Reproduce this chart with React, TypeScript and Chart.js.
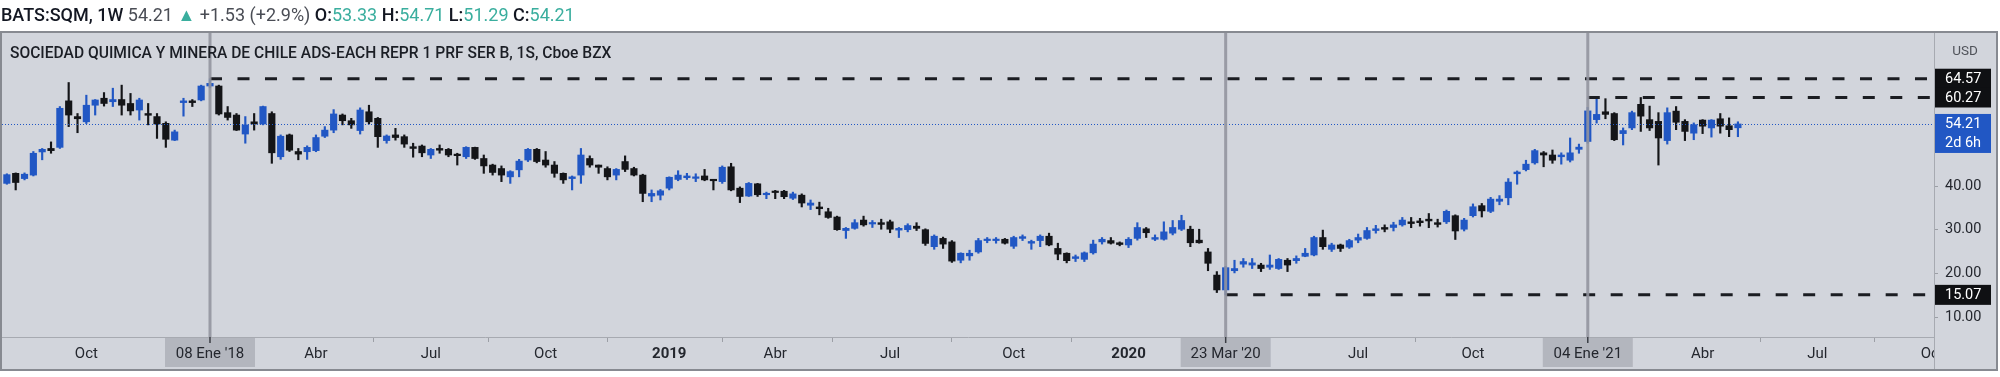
import React, { useEffect, useRef } from 'react';
import { Chart, registerables } from 'chart.js';

Chart.register(...registerables);

// Weekly candles; week index counted from the week of 08 Ene 2018 (= 0)
const FIRST_WEEK = -23;

const opens = [
  40.6, 42.9, 41.7, 42.5, 47.8, 48.6, 48.85, 59.5, 55.9, 54.7, 58.5, 60.1, 59.3, 59.8, 58.9, 57.4, 56.6, 55.9, 54.35, 50.5, 59.1, 59.5, 59.7,
  62.9, 62.9, 56.8, 56.25, 51.9, 54.7, 54.2, 56.6, 46.7, 51.7, 47.9, 47.85, 48.1, 51.4, 52.8, 56.25, 54.95, 52.7, 57.0, 55.5, 50.4, 51.7, 51.3, 49.0, 49.15, 47.1, 48.6, 48.4, 47.3, 46.7, 48.85, 46.3, 44.8,
  44.0, 42.1, 43.7, 45.95, 48.4, 45.95, 44.8, 42.9, 41.7, 42.5, 46.3, 44.8, 44.0, 42.5, 45.6, 44.0, 42.5, 37.7, 37.9,
  39.5, 41.5, 41.9, 41.75, 42.3, 41.5, 41.0, 44.4, 39.5, 37.7, 40.5, 38.0, 38.8, 38.8, 37.2, 37.9, 35.6, 35.2, 34.1, 32.9, 29.8, 30.3, 32.2, 31.3, 31.6, 31.8, 29.9, 30.0, 30.8, 30.0, 26.1, 28.0, 27.2, 23.0, 24.0, 24.9, 27.5, 27.5, 27.8, 26.2, 28.0, 26.9, 27.5, 28.5, 25.7, 24.6, 23.4, 23.2, 24.7, 27.2, 27.5, 27.0,
  26.5, 28.0, 30.2, 27.8, 27.8, 29.2, 30.1, 30.1, 27.6, 24.9, 19.6, 16.2, 20.6, 22.1, 21.9, 21.9, 21.4, 21.1, 23.0, 22.9, 23.9, 24.2, 28.2, 25.5, 26.5, 26.0, 27.6, 28.0, 29.8, 30.5, 30.5, 31.1, 31.8, 32.0, 32.4, 31.6, 31.8, 33.2, 30.1, 33.2, 35.5, 34.2, 36.5, 37.3, 42.8, 43.75, 45.3, 47.6, 47.1, 46.7, 45.9, 48.4,
  50.2, 55.2, 57.0, 56.6, 52.0, 53.3, 58.7, 55.2, 54.8, 50.4, 57.15, 54.8, 52.1, 55.1, 53.3, 55.4, 53.8, 53.33,
];
const highs = [
  42.8, 43.0, 43.0, 47.9, 48.6, 50.1, 58.2, 63.7, 56.6, 60.8, 59.8, 61.4, 62.4, 63.1, 61.2, 60.1, 58.9, 56.6, 54.7, 52.8, 60.1, 59.8, 63.1,
  64.57, 63.1, 58.2, 56.6, 55.9, 56.6, 58.3, 57.0, 51.7, 51.9, 48.6, 49.2, 51.7, 53.6, 57.5, 56.5, 55.5, 57.9, 58.5, 55.7, 51.7, 53.2, 51.7, 49.8, 49.4, 48.6, 49.4, 48.6, 47.5, 49.0, 48.9, 47.1, 45.0,
  44.6, 43.5, 46.1, 48.6, 48.6, 47.9, 45.6, 43.0, 42.3, 48.6, 46.9, 44.8, 44.4, 44.0, 46.9, 44.3, 42.7, 39.1, 39.2,
  42.1, 43.5, 42.9, 42.8, 43.8, 41.5, 44.6, 45.2, 39.8, 40.8, 40.6, 38.6, 39.0, 39.0, 38.6, 38.2, 36.8, 36.3, 34.9, 33.1, 30.5, 32.3, 33.1, 32.1, 32.4, 32.2, 30.5, 31.35, 31.6, 30.2, 28.8, 28.3, 27.5, 24.7, 25.3, 28.0, 28.2, 28.2, 28.0, 28.5, 28.8, 27.6, 28.8, 29.2, 26.9, 24.7, 24.2, 24.9, 27.6, 28.2, 28.2, 27.2,
  28.2, 31.6, 30.5, 28.8, 31.8, 32.1, 33.3, 30.8, 30.1, 25.7, 20.4, 21.6, 23.0, 23.4, 23.4, 22.3, 24.2, 23.4, 23.4, 24.0, 25.7, 28.5, 29.9, 26.9, 26.7, 27.8, 29.0, 30.5, 31.0, 31.1, 31.7, 32.8, 32.8, 32.6, 33.7, 32.4, 34.5, 33.4, 32.6, 35.9, 36.0, 37.4, 37.8, 41.7, 43.45, 45.9, 48.4, 47.9, 48.25, 47.6, 51.0, 49.6,
  58.0, 60.27, 60.0, 56.8, 53.3, 57.15, 60.27, 58.3, 56.8, 57.9, 58.2, 55.2, 54.45, 55.2, 55.2, 56.6, 55.6, 54.71,
];
const lows = [
  40.4, 39.1, 41.4, 42.3, 46.0, 47.5, 48.6, 53.6, 52.2, 54.3, 56.25, 58.3, 58.2, 56.25, 56.25, 55.1, 54.0, 50.9, 48.85, 50.4, 56.0, 58.2, 59.5,
  62.5, 56.25, 55.1, 52.7, 49.8, 52.8, 54.0, 45.2, 46.1, 47.9, 46.0, 46.1, 47.85, 51.1, 52.2, 54.0, 53.2, 51.9, 54.2, 48.85, 49.8, 50.5, 48.85, 46.6, 46.7, 46.3, 47.5, 46.7, 44.8, 46.3, 46.1, 42.9, 42.5,
  41.0, 40.6, 42.1, 45.6, 45.3, 44.3, 42.0, 40.6, 39.1, 40.6, 44.3, 42.9, 41.4, 41.4, 43.3, 42.3, 36.4, 36.4, 36.8,
  39.1, 41.2, 41.5, 41.0, 41.2, 39.1, 40.6, 38.9, 36.2, 37.6, 37.6, 37.1, 37.1, 37.1, 36.9, 35.2, 34.6, 33.4, 32.6, 29.85, 28.0, 30.1, 30.8, 30.5, 30.1, 29.3, 28.2, 29.5, 29.8, 26.4, 25.5, 25.7, 22.5, 22.4, 23.0, 24.6, 27.0, 26.9, 26.7, 25.7, 27.5, 25.5, 26.1, 26.3, 23.1, 22.4, 22.7, 22.7, 24.4, 26.7, 26.7, 26.3,
  25.9, 27.6, 28.2, 27.5, 27.6, 28.8, 29.8, 26.1, 26.9, 20.6, 15.6, 15.07, 20.1, 21.4, 21.1, 20.4, 20.9, 20.9, 20.4, 22.3, 23.8, 24.0, 25.5, 25.0, 25.0, 25.7, 27.0, 27.8, 29.2, 29.5, 29.7, 30.8, 30.45, 30.8, 30.45, 30.6, 31.4, 27.75, 29.7, 32.9, 32.9, 33.9, 35.7, 35.7, 40.4, 43.45, 45.0, 44.4, 45.2, 45.0, 45.5, 47.5,
  49.8, 54.4, 55.4, 50.4, 49.4, 52.9, 52.5, 52.7, 44.8, 49.6, 52.9, 50.4, 50.6, 52.0, 51.2, 52.1, 51.3, 51.29,
];
const closes = [
  42.6, 40.8, 42.7, 47.5, 48.4, 48.1, 57.8, 56.25, 55.4, 58.5, 59.7, 58.9, 59.8, 58.5, 57.2, 59.7, 56.2, 54.2, 50.7, 52.4, 59.5, 59.1, 62.9,
  63.5, 56.5, 55.7, 52.8, 54.0, 54.2, 58.2, 47.6, 51.4, 48.2, 47.3, 48.85, 51.1, 52.8, 56.5, 54.95, 54.0, 57.4, 54.7, 51.3, 51.45, 51.1, 49.6, 48.6, 47.6, 48.4, 48.2, 47.1, 46.95, 48.85, 46.3, 44.6, 43.1,
  42.5, 43.3, 45.7, 48.4, 45.6, 44.8, 42.9, 41.4, 42.1, 47.1, 44.8, 44.3, 42.1, 43.8, 43.8, 42.5, 38.3, 38.3, 38.9,
  42.0, 42.5, 42.3, 42.1, 41.4, 41.2, 44.3, 39.1, 37.6, 40.6, 38.0, 38.3, 38.5, 37.55, 38.2, 36.1, 36.1, 34.8, 32.8, 30.0, 30.3, 31.6, 31.1, 31.6, 31.2, 30.1, 30.3, 30.95, 30.3, 26.85, 28.5, 26.7, 22.8, 24.6, 24.6, 27.5, 27.8, 27.8, 26.9, 28.2, 28.4, 27.3, 28.5, 26.5, 24.4, 22.9, 23.8, 24.7, 26.7, 27.8, 26.9, 26.6,
  27.8, 30.5, 29.3, 28.2, 29.5, 30.5, 32.1, 27.0, 27.0, 22.3, 16.2, 21.3, 21.1, 22.7, 22.4, 21.1, 21.9, 23.2, 21.9, 23.4, 24.6, 28.2, 26.1, 26.5, 25.7, 27.5, 28.2, 29.8, 30.2, 30.1, 31.1, 32.2, 31.4, 31.6, 32.0, 31.2, 34.2, 29.7, 32.2, 35.25, 34.3, 37.0, 37.0, 40.9, 43.2, 45.0, 48.1, 47.1, 45.9, 47.1, 47.6, 48.9,
  57.2, 56.4, 56.4, 50.6, 52.7, 56.8, 56.0, 53.3, 51.0, 56.8, 54.6, 52.5, 54.05, 53.7, 55.1, 53.7, 52.9, 54.21,
];

// Time axis
const xTickWeeks = [-14, 12, 25, 38, 52, 64, 77, 91, 104, 130, 143, 169, 182, 195];
const xTickLabels = ['Oct', 'Abr', 'Jul', 'Oct', '2019', 'Abr', 'Jul', 'Oct', '2020', 'Jul', 'Oct', 'Abr', 'Jul', 'Oct'];
const markerWeeks = [0, 115, 156];
const markerLabels = ["08 Ene '18", "23 Mar '20", "04 Ene '21"];

// Price axis
const yTicks = [10, 20, 30, 40];
const levelValues = [64.57, 60.27, 15.07];
const levelStartWeeks = [0, 156, 115];
const lastPrice = 54.21;
const countdownLabel = '2d 6h';

const UP = '#2157c4';
const DOWN = '#141518';
const BG = '#d2d5dc';
const TEXT = '#24272e';
const AXIS = '#a7aab1';
const FONT = 'Roboto';
const FRAME = { left: 1, top: 32, right: 1997, bottom: 370 };

const weeks = opens.map((_, i) => FIRST_WEEK + i);
const candleColors = opens.map((o, i) => (closes[i] >= o ? UP : DOWN));

const overlayPlugin = {
  id: 'tvOverlay',
  beforeDraw(chart: any) {
    const { ctx } = chart;
    ctx.save();
    ctx.fillStyle = '#ffffff';
    ctx.fillRect(0, 0, chart.width, chart.height);
    ctx.fillStyle = BG;
    ctx.fillRect(FRAME.left, FRAME.top, FRAME.right - FRAME.left, FRAME.bottom - FRAME.top);
    ctx.restore();
  },
  afterDatasetsDraw(chart: any) {
    const { ctx, chartArea: a } = chart;
    const x = chart.scales.x;
    const y = chart.scales.y;
    ctx.save();
    ctx.beginPath();
    ctx.rect(a.left, a.top, a.right - a.left, a.bottom - a.top);
    ctx.clip();
    // last price dotted line
    const py = Math.round(y.getPixelForValue(lastPrice)) + 0.5;
    ctx.strokeStyle = UP;
    ctx.lineWidth = 1;
    ctx.setLineDash([1, 2]);
    ctx.beginPath();
    ctx.moveTo(a.left, py);
    ctx.lineTo(a.right, py);
    ctx.stroke();
    // horizontal level rays
    ctx.strokeStyle = '#1b1d22';
    ctx.lineWidth = 3;
    ctx.setLineDash([12, 15.5]);
    levelValues.forEach((v, i) => {
      const ly = y.getPixelForValue(v);
      const lx = x.getPixelForValue(levelStartWeeks[i]);
      ctx.beginPath();
      ctx.moveTo(lx, ly);
      ctx.lineTo(a.right, ly);
      ctx.stroke();
    });
    // vertical marker lines
    ctx.setLineDash([]);
    ctx.strokeStyle = 'rgba(146,149,158,0.9)';
    ctx.lineWidth = 3;
    markerWeeks.forEach((w) => {
      const mx = x.getPixelForValue(w);
      ctx.beginPath();
      ctx.moveTo(mx, a.top);
      ctx.lineTo(mx, a.bottom);
      ctx.stroke();
    });
    ctx.restore();
  },
  afterDraw(chart: any) {
    const { ctx, chartArea: a } = chart;
    const x = chart.scales.x;
    const y = chart.scales.y;
    ctx.save();
    // price-axis column continues through the time-axis row
    ctx.fillStyle = BG;
    ctx.fillRect(a.right + 1, a.bottom + 1, FRAME.right - a.right - 1, FRAME.bottom - a.bottom - 1);
    ctx.strokeStyle = AXIS;
    ctx.lineWidth = 1;
    ctx.beginPath();
    ctx.moveTo(a.right + 0.5, a.top);
    ctx.lineTo(a.right + 0.5, FRAME.bottom);
    ctx.stroke();

    // highlighted time labels
    ctx.font = `15px ${FONT}`;
    ctx.textAlign = 'center';
    ctx.textBaseline = 'middle';
    markerWeeks.forEach((w, i) => {
      const mx = x.getPixelForValue(w);
      ctx.fillStyle = '#b3b6be';
      ctx.fillRect(mx - 45, a.bottom + 1, 90, 29);
      ctx.fillStyle = TEXT;
      ctx.fillText(markerLabels[i], mx, a.bottom + 17);
      ctx.strokeStyle = '#3a3d44';
      ctx.lineWidth = 1.5;
      ctx.beginPath();
      ctx.moveTo(mx, a.bottom);
      ctx.lineTo(mx, a.bottom + 6);
      ctx.stroke();
    });

    // price badges
    const bx = a.right + 1;
    const bw = 56;
    ctx.textAlign = 'left';
    ctx.font = `14.5px ${FONT}`;
    levelValues.forEach((v) => {
      const vy = y.getPixelForValue(v);
      ctx.fillStyle = '#0f1013';
      ctx.fillRect(bx, vy - 10, bw, 20);
    });
    levelValues.forEach((v) => {
      const vy = y.getPixelForValue(v);
      ctx.fillStyle = '#ffffff';
      ctx.fillText(v.toFixed(2), a.right + 11, vy + 0.5);
    });
    const ly = y.getPixelForValue(lastPrice);
    ctx.fillStyle = UP;
    ctx.fillRect(bx, ly - 10, bw, 39);
    ctx.fillStyle = '#ffffff';
    ctx.fillText(lastPrice.toFixed(2), a.right + 11, ly + 0.5);
    ctx.fillText(countdownLabel, a.right + 11, ly + 19);

    // currency label
    ctx.fillStyle = '#50535a';
    ctx.font = `13.5px ${FONT}`;
    ctx.textAlign = 'center';
    ctx.fillText('USD', a.right + 31, a.top + 19);

    // frame
    ctx.strokeStyle = '#878a91';
    ctx.lineWidth = 2;
    ctx.strokeRect(FRAME.left, FRAME.top, FRAME.right - FRAME.left, FRAME.bottom - FRAME.top);
    ctx.restore();
  },
};

export default function App() {
  const canvasRef = useRef<HTMLCanvasElement | null>(null);

  useEffect(() => {
    document.body.style.margin = '0';
    const canvas = canvasRef.current;
    if (!canvas) return;
    const chart = new Chart(canvas, {
      type: 'bar',
      data: {
        datasets: [
          {
            label: 'body',
            data: weeks.map((w, i) => ({ x: w, y: [opens[i], closes[i]] })) as any,
            backgroundColor: candleColors,
            borderWidth: 0,
            barThickness: 6.5,
            minBarLength: 1.5,
            grouped: false,
          } as any,
          {
            label: 'wick',
            data: weeks.map((w, i) => ({ x: w, y: [lows[i], highs[i]] })) as any,
            backgroundColor: candleColors,
            borderWidth: 0,
            barThickness: 1.5,
            grouped: false,
          } as any,
        ],
      },
      options: {
        responsive: false,
        maintainAspectRatio: false,
        devicePixelRatio: 1,
        animation: false,
        layout: { padding: { left: 2, top: 33, right: 0, bottom: 0 } },
        plugins: {
          legend: { display: false },
          tooltip: { enabled: false },
        },
        scales: {
          x: {
            type: 'linear',
            position: 'bottom',
            min: -23.55,
            max: 195.2,
            offset: false,
            afterFit: (s: any) => {
              s.height = 40;
            },
            afterBuildTicks: (s: any) => {
              s.ticks = xTickWeeks.map((v) => ({ value: v }));
            },
            grid: {
              display: true,
              drawOnChartArea: false,
              drawTicks: true,
              tickLength: 5,
              color: 'rgba(120,123,130,0.6)',
            },
            border: { display: true, color: AXIS, width: 1 },
            ticks: {
              autoSkip: false,
              maxRotation: 0,
              minRotation: 0,
              padding: 3,
              color: TEXT,
              font: (c: any) => ({
                family: FONT,
                size: 15,
                weight: /^\d{4}$/.test(xTickLabels[c.index] || '') ? 'bold' : 'normal',
              }),
              callback: (_v: any, i: number) => xTickLabels[i],
            },
          },
          y: {
            type: 'linear',
            position: 'right',
            min: 5.42,
            max: 75.04,
            afterFit: (s: any) => {
              s.width = 66;
            },
            afterBuildTicks: (s: any) => {
              s.ticks = yTicks.map((v) => ({ value: v }));
            },
            grid: {
              display: true,
              drawOnChartArea: false,
              drawTicks: true,
              tickLength: 4,
              color: 'rgba(120,123,130,0.6)',
            },
            border: { display: true, color: AXIS, width: 1 },
            ticks: {
              padding: 7,
              color: TEXT,
              font: { family: FONT, size: 14.5 },
              callback: (v: any) => Number(v).toFixed(2),
            },
          },
        },
      } as any,
      plugins: [overlayPlugin],
    });
    return () => chart.destroy();
  }, []);

  const teal = '#3aae9e';
  const gray = '#4a4d55';
  return (
    <div style={{ position: 'fixed', left: 0, top: 0, width: 2000, height: 377, overflow: 'hidden', background: '#fff' }}>
      <canvas ref={canvasRef} width={2000} height={377} style={{ position: 'absolute', left: 0, top: 0, width: 2000, height: 377 }} />
      <div
        style={{
          position: 'absolute',
          left: 1,
          top: 3,
          fontFamily: FONT,
          fontSize: 18,
          lineHeight: '24px',
          whiteSpace: 'nowrap',
          color: '#131722',
        }}
      >
        <span style={{ fontWeight: 500 }}>BATS:SQM, 1W</span>{' '}
        <span style={{ color: gray }}>54.21</span> <span style={{ color: teal }}>▲</span>{' '}
        <span style={{ color: gray }}>+1.53 (+2.9%)</span> <span style={{ fontWeight: 500 }}>O:</span>
        <span style={{ color: teal }}>53.33</span> <span style={{ fontWeight: 500 }}>H:</span>
        <span style={{ color: teal }}>54.71</span> <span style={{ fontWeight: 500 }}>L:</span>
        <span style={{ color: teal }}>51.29</span> <span style={{ fontWeight: 500 }}>C:</span>
        <span style={{ color: teal }}>54.21</span>
      </div>
      <div
        style={{
          position: 'absolute',
          left: 10,
          top: 44,
          fontFamily: FONT,
          fontSize: 15.6,
          fontWeight: 500,
          lineHeight: '19px',
          whiteSpace: 'nowrap',
          color: '#1b1e25',
        }}
      >
        SOCIEDAD QUIMICA Y MINERA DE CHILE ADS-EACH REPR 1 PRF SER B, 1S, Cboe BZX
      </div>
    </div>
  );
}
